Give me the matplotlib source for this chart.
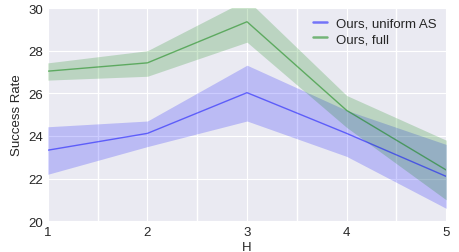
import numpy as np
import matplotlib
matplotlib.use("Agg")
import matplotlib.pyplot as plt

plt.style.use("seaborn-v0_8-darkgrid")
plt.rcParams['font.family'] = ['Liberation Sans', 'DejaVu Sans']

H = [1, 2, 3, 4, 5]

# Ours, uniform AS
uni_mean = [23.33, 24.12, 26.03, 24.12, 22.1]
uni_low = [22.2, 23.5, 24.7, 23.04, 20.6]
uni_high = [24.43, 24.7, 27.32, 25.2, 23.6]

# Ours, full
full_mean = [27.04, 27.43, 29.36, 25.2, 22.4]
full_low = [26.62, 26.8, 28.4, 24.4, 21.0]
full_high = [27.43, 28.0, 30.4, 25.9, 23.8]

fig = plt.figure(figsize=(4.6, 2.53), dpi=100)
ax = fig.add_axes([0.104, 0.122, 0.866, 0.842])

ax.plot(H, uni_mean, color='b', alpha=0.5, lw=1, label='Ours, uniform AS')
ax.fill_between(H, uni_low, uni_high, color='b', alpha=0.2, lw=0)
ax.plot(H, full_mean, color='g', alpha=0.5, lw=1, label='Ours, full')
ax.fill_between(H, full_low, full_high, color='g', alpha=0.2, lw=0)

ax.set_xlim(1, 5)
ax.set_ylim(20, 30)
ax.set_xticks(H)
ax.set_xticks([1.5, 2.5, 3.5, 4.5], minor=True)
ax.grid(True, which='minor', axis='x', color='white', lw=1)
ax.tick_params(axis='both', which='both', length=0, labelsize=9.5)
ax.set_xlabel('H', fontsize=9.5, labelpad=2)
ax.set_ylabel('Success Rate', fontsize=9.5)
leg = ax.legend(loc='upper right', fontsize=9.5, frameon=False,
                handlelength=1.1, labelspacing=0.25, handletextpad=0.7,
                borderaxespad=0.3)
for line in leg.get_lines():
    line.set_linewidth(1.8)

fig.savefig('out.png', dpi=100)
